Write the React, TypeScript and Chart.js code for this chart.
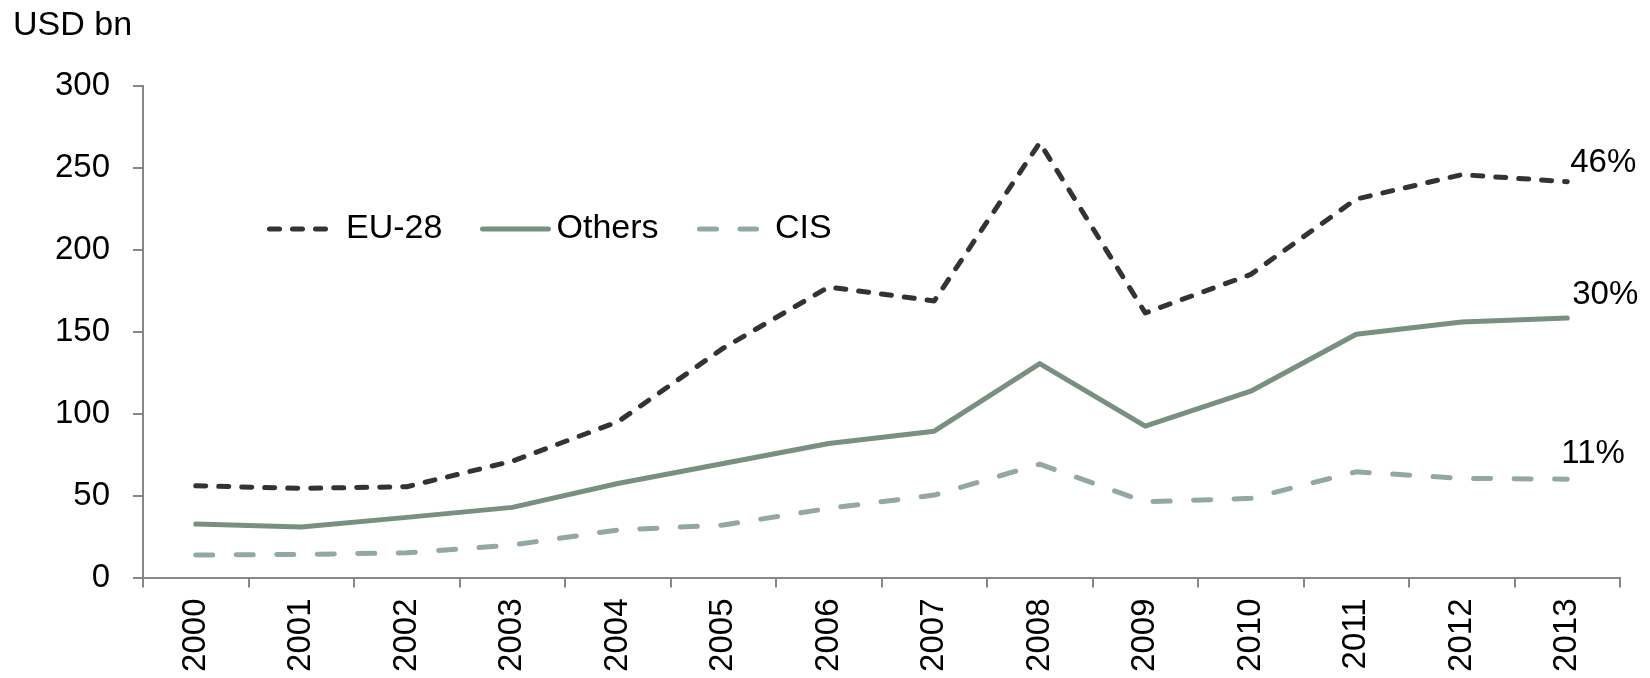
import React, { useEffect, useRef } from "react";
import { Chart, registerables } from "chart.js";

Chart.register(...registerables);

const years = ["2000", "2001", "2002", "2003", "2004", "2005", "2006", "2007", "2008", "2009", "2010", "2011", "2012", "2013"];
const eu28 = [56, 54.4, 55.4, 71, 95, 140, 177.3, 168.8, 265.4, 161.5, 185, 231, 245.9, 241.6];
const others = [32.6, 30.8, 36.7, 42.8, 57.4, 69.6, 81.8, 89.3, 130.6, 92.4, 113.7, 148.5, 156, 158.4];
const cis = [13.7, 14.1, 15.1, 19.8, 29, 32, 42.2, 50.3, 69.2, 46.2, 48.3, 64.5, 60.5, 60];
const seriesNames = ["EU-28", "Others", "CIS"];
const shareLabels = ["46%", "30%", "11%"];
const unitLabel = "USD bn";
const yMin = 0;
const yMax = 300;
const yStep = 50;

const FONT = "'Liberation Sans', Arial, Helvetica, sans-serif";
const AXIS = "#878787";
const C_EU = "#333333";
const C_OTH = "#77907f";
const C_CIS = "#93a89f";
const DASH_EU = [10, 13];
const DASH_CIS = [17, 23.5];

const overlayPlugin = {
  id: "overlay",
  afterDraw(chart: any) {
    const ctx = chart.ctx;
    ctx.save();
    // unit label
    ctx.fillStyle = "#000";
    ctx.font = `34px ${FONT}`;
    ctx.textAlign = "left";
    ctx.textBaseline = "alphabetic";
    ctx.fillText(unitLabel, 13, 35);

    // share labels next to last points
    const offs = [
      [3, -10],
      [5, -14],
      [-6, -16],
    ];
    ctx.font = `33px ${FONT}`;
    chart.data.datasets.forEach((ds: any, i: number) => {
      const meta = chart.getDatasetMeta(i);
      const pt = meta.data[meta.data.length - 1];
      ctx.fillText(shareLabels[i], pt.x + offs[i][0], pt.y + offs[i][1]);
    });

    // legend
    const ly = 229;
    const items = [
      { x1: 269.5, x2: 327.5, tx: 346, dash: DASH_EU, color: C_EU },
      { x1: 482.5, x2: 548.5, tx: 556.5, dash: [], color: C_OTH },
      { x1: 699.5, x2: 756.5, tx: 775, dash: DASH_CIS, color: C_CIS },
    ];
    items.forEach((it, i) => {
      ctx.beginPath();
      ctx.setLineDash(it.dash);
      ctx.lineCap = "round";
      ctx.lineWidth = 5;
      ctx.strokeStyle = it.color;
      ctx.moveTo(it.x1, ly);
      ctx.lineTo(it.x2, ly);
      ctx.stroke();
      ctx.setLineDash([]);
      ctx.fillStyle = "#000";
      ctx.font = `34px ${FONT}`;
      ctx.textBaseline = "middle";
      ctx.fillText(seriesNames[i], it.tx, ly);
    });
    ctx.restore();
  },
};

export default function App() {
  const ref = useRef<HTMLCanvasElement | null>(null);

  useEffect(() => {
    document.body.style.margin = "0";
    const canvas = ref.current;
    if (!canvas) return;
    const chart = new Chart(canvas, {
      type: "line",
      data: {
        labels: years,
        datasets: [
          {
            label: seriesNames[0],
            data: eu28,
            borderColor: C_EU,
            borderWidth: 5,
            borderDash: DASH_EU,
            borderCapStyle: "round",
            borderJoinStyle: "round",
            pointRadius: 0,
            tension: 0,
            fill: false,
          },
          {
            label: seriesNames[1],
            data: others,
            borderColor: C_OTH,
            borderWidth: 5,
            borderCapStyle: "round",
            borderJoinStyle: "round",
            pointRadius: 0,
            tension: 0,
            fill: false,
          },
          {
            label: seriesNames[2],
            data: cis,
            borderColor: C_CIS,
            borderWidth: 5,
            borderDash: DASH_CIS,
            borderCapStyle: "round",
            borderJoinStyle: "round",
            pointRadius: 0,
            tension: 0,
            fill: false,
          },
        ],
      },
      options: {
        responsive: false,
        animation: false,
        devicePixelRatio: 1,
        layout: { padding: { top: 86, right: 30, left: 0, bottom: 0 } },
        plugins: { legend: { display: false }, tooltip: { enabled: false } },
        scales: {
          x: {
            type: "category",
            offset: true,
            grid: { offset: true, drawOnChartArea: false, tickLength: 10, color: AXIS, lineWidth: 2 },
            border: { color: AXIS, width: 2 },
            ticks: {
              minRotation: 90,
              maxRotation: 90,
              autoSkip: false,
              padding: 11,
              color: "#000",
              font: { family: FONT, size: 33 },
            },
            afterFit: (s: any) => {
              s.height = 100.5;
            },
          },
          y: {
            min: yMin,
            max: yMax,
            ticks: { stepSize: yStep, padding: 23, color: "#000", font: { family: FONT, size: 33 } },
            grid: { drawOnChartArea: false, tickLength: 10, color: AXIS, lineWidth: 2 },
            border: { color: AXIS, width: 2 },
            afterFit: (s: any) => {
              s.width = 143;
            },
          },
        },
      },
      plugins: [overlayPlugin],
    } as any);
    return () => chart.destroy();
  }, []);

  return (
    <div style={{ width: 1650, height: 678, position: "relative" }}>
      <canvas ref={ref} width={1650} height={678} style={{ display: "block", width: 1650, height: 678 }} />
    </div>
  );
}
